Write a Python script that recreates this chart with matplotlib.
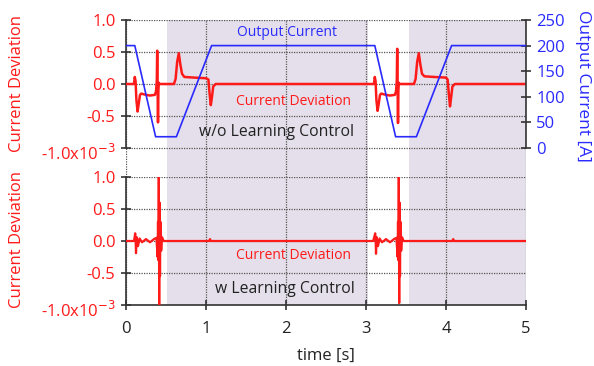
import matplotlib
matplotlib.use('Agg')
import matplotlib.pyplot as plt
import matplotlib.transforms as mtransforms

plt.rcParams['font.family'] = ['Open Sans', 'DejaVu Sans']

RED = '#ff1a1a'
BLUE = '#2a2aff'
SHADE = '#e4dfea'
GRID = '#555555'

# shaded intervals [s]
shade_spans = [(0.51, 3.03), (3.54, 5.0)]

# output current [A]
t_out = [0, 0.11, 0.37, 0.63, 1.07, 3.11, 3.37, 3.63, 4.07, 5.0]
i_out = [200, 200, 22, 22, 200, 200, 22, 22, 200, 200]

# current deviation, w/o learning control (x1e-3)
t_wo = [0, 0.10, 0.11, 0.12, 0.13, 0.145, 0.16, 0.175, 0.19, 0.25, 0.30, 0.36,
        0.375, 0.385, 0.39, 0.395, 0.40, 0.405, 0.41, 0.42, 0.60, 0.62, 0.64,
        0.66, 0.68, 0.70, 0.73, 0.85, 1.00, 1.03, 1.045, 1.06, 1.075, 1.09, 1.12,
        3.09, 3.10, 3.11, 3.12, 3.13, 3.145, 3.16, 3.175, 3.19, 3.25, 3.30, 3.36,
        3.375, 3.385, 3.39, 3.395, 3.40, 3.405, 3.41, 3.42, 3.60, 3.62, 3.64,
        3.66, 3.68, 3.70, 3.73, 3.85, 4.00, 4.02, 4.035, 4.05, 4.065, 4.08, 4.11,
        5.0]
d_wo = [0, 0, 0.11, 0.04, -0.25, -0.43, -0.30, -0.17, -0.15, -0.17, -0.18, -0.17,
        -0.12, 0.05, 0.52, -0.05, -0.60, -0.10, 0.02, 0, 0, 0.08, 0.35,
        0.48, 0.30, 0.16, 0.11, 0.10, 0.09, 0.07, -0.15, -0.33, -0.20, -0.04, 0,
        0, 0, 0.11, 0.04, -0.25, -0.42, -0.30, -0.17, -0.15, -0.17, -0.18, -0.17,
        -0.12, 0.05, 0.55, -0.05, -0.61, -0.10, 0.02, 0, 0, 0.08, 0.35,
        0.48, 0.30, 0.16, 0.12, 0.11, 0.10, 0.07, -0.15, -0.35, -0.20, -0.04, 0,
        0]

# current deviation, w learning control (x1e-3)
t_w = [0, 0.10, 0.115, 0.12, 0.125, 0.135, 0.15, 0.17, 0.20, 0.25, 0.30, 0.35,
       0.38, 0.395, 0.40, 0.405, 0.41, 0.415, 0.42, 0.425, 0.43, 0.44, 0.45, 0.47,
       1.04, 1.05, 1.06, 3.09, 3.115, 3.12, 3.125, 3.135, 3.15, 3.17, 3.20, 3.25,
       3.30, 3.35, 3.38, 3.395, 3.40, 3.405, 3.41, 3.415, 3.42, 3.425, 3.43, 3.44,
       3.45, 3.47, 4.08, 4.09, 4.10, 5.0]
d_w = [0, 0, 0.12, 0.03, -0.19, 0.06, -0.08, 0.04, -0.02, 0.03, -0.02, 0.03,
       0.05, -0.25, 0.30, -0.30, 1.0, -1.0, 0.60, -0.55, 0.30, -0.15, 0.06, 0,
       0, 0.03, 0, 0, 0.12, 0.04, -0.20, 0.06, -0.08, 0.04, -0.02, 0.03,
       -0.02, 0.03, 0.05, -0.25, 0.30, -0.30, 1.0, -0.97, 0.60, -0.55, 0.30, -0.15,
       0.06, 0, 0, 0.03, 0, 0]

dev_ticks = [-1.0, -0.5, 0.0, 0.5, 1.0]
dev_labels = ['-1.0x10$^{-3}$', '-0.5', '0.0', '0.5', '1.0']
out_ticks = [0, 50, 100, 150, 200, 250]

fig = plt.figure(figsize=(5.94, 3.66), dpi=100)
ax1 = fig.add_axes([126 / 594, 1 - 177 / 366, 400 / 594, 157 / 366])
ax2 = fig.add_axes([126 / 594, 1 - 305 / 366, 400 / 594, 128 / 366])
ax1.patch.set_alpha(0)
ax2.patch.set_alpha(0)

gap = 29 / 64  # gap between panels in deviation units

for ax in (ax1, ax2):
    for a, b in shade_spans:
        ax.axvspan(a, b, color=SHADE, lw=0, zorder=0)
    ax.set_xlim(0, 5)
    ax.set_yticks(dev_ticks)
    ax.set_yticklabels(dev_labels)
    ax.grid(True, color=GRID, linestyle=(0, (1, 1)), linewidth=0.9)
    ax.set_axisbelow(True)
    ax.tick_params(axis='y', colors=RED, labelsize=12, direction='inout',
                   length=7, width=1.2, pad=4)
    ax.tick_params(axis='y', color='#333333')
    ax.spines['left'].set_color('#333333')
    ax.spines['left'].set_linewidth(1.2)
    ax.spines['left'].set_bounds(-1, 1)
    ax.spines['top'].set_visible(False)
    ax.spines['right'].set_visible(False)
    # push the "-1.0x10-3" label down a little, like the original
    lab = ax.get_yticklabels()[0]
    lab.set_transform(lab.get_transform() +
                      mtransforms.ScaledTranslation(0, -4 / 100, fig.dpi_scale_trans))

ax1.set_ylim(-1 - gap, 1)
ax2.set_ylim(-1, 1)

ax1.spines['bottom'].set_visible(False)
ax1.tick_params(axis='x', length=0, labelbottom=False)
ax1.set_xticks([0, 1, 2, 3, 4, 5])

ax2.set_xticks([0, 1, 2, 3, 4, 5])
ax2.spines['bottom'].set_color('#333333')
ax2.spines['bottom'].set_linewidth(1.2)
ax2.tick_params(axis='x', labelsize=12, colors='#222222', direction='inout',
                length=7, width=1.2, pad=8)
ax2.tick_params(axis='x', color='#333333')
ax2.set_xlabel('time [s]', fontsize=12, color='#222222', labelpad=8)

# output current on the right axis of the top panel
axr = ax1.twinx()
axr.set_ylim(-gap * 125, 250)
axr.set_yticks(out_ticks)
axr.spines['right'].set_bounds(0, 250)
axr.spines['right'].set_color('#333333')
axr.spines['right'].set_linewidth(1.2)
for s in ('left', 'top', 'bottom'):
    axr.spines[s].set_visible(False)
axr.tick_params(axis='y', colors=BLUE, labelsize=12, direction='inout',
                length=7, width=1.2, pad=4)
axr.tick_params(axis='y', color='#333333')
axr.plot(t_out, i_out, color=BLUE, lw=1.2, zorder=3)

ax1.plot(t_wo, d_wo, color=RED, lw=1.8, zorder=4)
ax2.plot(t_w, d_w, color=RED, lw=1.6, zorder=4)

ax1.text(2.01, 0.80, 'Output Current', color=BLUE, fontsize=10,
         ha='center', va='center')
ax1.text(2.09, -0.27, 'Current Deviation', color=RED, fontsize=10,
         ha='center', va='center')
ax1.text(1.88, -0.75, 'w/o Learning Control', color='#222222', fontsize=11.3,
         ha='center', va='center')
ax2.text(2.09, -0.23, 'Current Deviation', color=RED, fontsize=10,
         ha='center', va='center')
ax2.text(1.99, -0.75, 'w Learning Control', color='#222222', fontsize=11.3,
         ha='center', va='center')

fig.text(17 / 594, 1 - 84 / 366, 'Current Deviation', color=RED, fontsize=12,
         rotation=90, ha='center', va='center')
fig.text(17 / 594, 1 - 240 / 366, 'Current Deviation', color=RED, fontsize=12,
         rotation=90, ha='center', va='center')
fig.text(583 / 594, 1 - 86 / 366, 'Output Current [A]', color=BLUE, fontsize=12.5,
         rotation=270, ha='center', va='center')

fig.savefig('out.png', dpi=100)
